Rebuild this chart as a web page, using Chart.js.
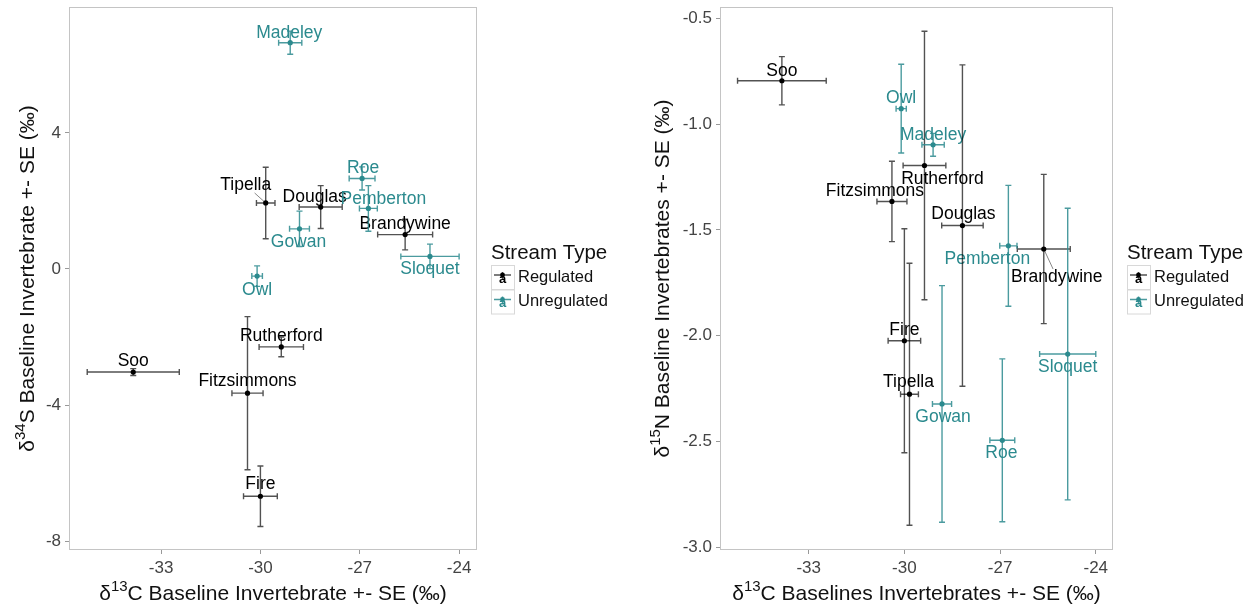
<!DOCTYPE html>
<html>
<head>
<meta charset="utf-8">
<script src="https://cdn.jsdelivr.net/npm/chart.js@4.4.1/dist/chart.umd.min.js"></script>
<style>
  html, body { margin: 0; padding: 0; background: #fff; }
  #wrap { position: relative; width: 1255px; height: 609px; }
  #left { position: absolute; left: 0; top: 0; }
  #right { position: absolute; left: 630px; top: 0; }
</style>
</head>
<body>
<div id="wrap">
  <canvas id="left" width="630" height="609"></canvas>
  <canvas id="right" width="625" height="609"></canvas>
</div>
<script>
// stream sites and their isotope means / standard errors
const sites = ['Soo', 'Owl', 'Madeley', 'Rutherford', 'Fitzsimmons', 'Douglas', 'Pemberton',
  'Brandywine', 'Sloquet', 'Fire', 'Tipella', 'Gowan', 'Roe'];
const streamType = ['Regulated', 'Unregulated', 'Unregulated', 'Regulated', 'Regulated', 'Regulated', 'Unregulated',
  'Regulated', 'Unregulated', 'Regulated', 'Regulated', 'Unregulated', 'Unregulated'];
const d13C    = [-33.84, -30.10, -29.10, -29.37, -30.39, -28.18, -26.74, -25.63, -24.88, -30.00, -29.84, -28.82, -26.93];
const d13C_se = [1.39, 0.16, 0.35, 0.67, 0.47, 0.65, 0.27, 0.83, 0.88, 0.51, 0.28, 0.30, 0.39];
const d34S    = [-3.03, -0.21, 6.65, -2.29, -3.65, 1.82, 1.78, 1.01, 0.37, -6.68, 1.94, 1.18, 2.66];
const d34S_se = [0.10, 0.30, 0.34, 0.29, 2.25, 0.63, 0.67, 0.45, 0.36, 0.89, 1.05, 0.52, 0.34];
const d15N    = [-0.794, -0.926, -1.097, -1.195, -1.365, -1.479, -1.575, -1.590, -2.087, -2.024, -2.277, -2.323, -2.495];
const d15N_se = [0.114, 0.210, 0.054, 0.635, 0.190, 0.760, 0.286, 0.353, 0.690, 0.530, 0.620, 0.560, 0.385];

const xTicks = [-33, -30, -27, -24];
const sTicks = [-8, -4, 0, 4];
const nTicks = [-3.0, -2.5, -2.0, -1.5, -1.0, -0.5];

// label offsets in px from each point (repel-style placement), last flag = draw a leader segment
const nudgeS = [[0, -11], [0, 14], [-1, -10], [0, -11], [0, -12], [-6, -10], [15, -9],
  [0, -10], [0, 13], [0, -12], [-20, -18, true], [-1, 13], [1, -10]];
const nudgeN = [[0, -10], [0, -10], [0, -10], [18, 14], [-17, -10], [1, -11], [-21, 13],
  [13, 28, true], [0, 13], [0, -11], [-1, -12], [1, 13], [-1, 13]];

const FONT = '"Liberation Sans", Arial, Helvetica, sans-serif';
const colors = { Regulated: '#000000', Unregulated: '#2b8a8e' };
const barColors = { Regulated: 'rgba(0,0,0,0.68)', Unregulated: 'rgba(43,138,142,0.85)' };

// draws text made of normal and superscript pieces, centred on x
function richText(ctx, parts, x, y, size) {
  const supSize = Math.round(size * 0.7);
  let total = 0;
  parts.forEach(p => {
    ctx.font = (p.sup ? supSize : size) + 'px ' + FONT;
    p.w = ctx.measureText(p.t).width;
    total += p.w;
  });
  let cx = x - total / 2;
  ctx.textAlign = 'left';
  ctx.textBaseline = 'alphabetic';
  parts.forEach(p => {
    ctx.font = (p.sup ? supSize : size) + 'px ' + FONT;
    ctx.fillText(p.t, cx, p.sup ? y - size * 0.42 : y);
    cx += p.w;
  });
}

const isoPlugin = {
  id: 'iso',
  beforeDatasetsDraw(chart) {
    const ctx = chart.ctx;
    const xs = chart.scales.x, ys = chart.scales.y;
    ctx.save();

    // text labels, with a leader segment where the label sits away from its point
    chart.data.datasets.forEach(ds => {
      ds.data.forEach(p => {
        const px = xs.getPixelForValue(p.x), py = ys.getPixelForValue(p.y);
        const lx = px + p.nudge[0], ly = py + p.nudge[1];
        ctx.font = '17.5px ' + FONT;
        const w = ctx.measureText(p.name).width;
        if (p.nudge[2]) {
          const dx = px - lx, dy = py - ly;
          const t = Math.min(w / 2 / Math.abs(dx || 1e-6), 8 / Math.abs(dy || 1e-6));
          ctx.strokeStyle = '#888';
          ctx.lineWidth = 1;
          ctx.beginPath();
          ctx.moveTo(lx + dx * t, ly + dy * t);
          ctx.lineTo(px, py);
          ctx.stroke();
        }
        ctx.fillStyle = colors[ds.label];
        ctx.textAlign = 'center';
        ctx.textBaseline = 'middle';
        ctx.fillText(p.name, lx, ly);
      });
    });

    // horizontal and vertical error bars with small caps
    const cap = 3;
    chart.data.datasets.forEach(ds => {
      ctx.strokeStyle = barColors[ds.label];
      ctx.lineWidth = 1.4;
      ds.data.forEach(p => {
        const px = xs.getPixelForValue(p.x), py = ys.getPixelForValue(p.y);
        const x0 = xs.getPixelForValue(p.x - p.xErr), x1 = xs.getPixelForValue(p.x + p.xErr);
        const y0 = ys.getPixelForValue(p.y - p.yErr), y1 = ys.getPixelForValue(p.y + p.yErr);
        ctx.beginPath();
        ctx.moveTo(x0, py); ctx.lineTo(x1, py);
        ctx.moveTo(x0, py - cap); ctx.lineTo(x0, py + cap);
        ctx.moveTo(x1, py - cap); ctx.lineTo(x1, py + cap);
        ctx.moveTo(px, y0); ctx.lineTo(px, y1);
        ctx.moveTo(px - cap, y0); ctx.lineTo(px + cap, y0);
        ctx.moveTo(px - cap, y1); ctx.lineTo(px + cap, y1);
        ctx.stroke();
      });
    });
    ctx.restore();
  },
  afterDraw(chart) {
    const ctx = chart.ctx;
    const a = chart.chartArea;
    const o = chart.options.plugins.iso;
    ctx.save();

    // panel frame
    ctx.strokeStyle = '#c4c4c4';
    ctx.lineWidth = 1;
    ctx.strokeRect(a.left + 0.5, a.top + 0.5, a.right - a.left - 1, a.bottom - a.top - 1);

    // axis titles
    ctx.fillStyle = '#111';
    richText(ctx, o.xTitle, (a.left + a.right) / 2, 600, 21);
    ctx.save();
    ctx.translate(o.yTitleX, (a.top + a.bottom) / 2);
    ctx.rotate(-Math.PI / 2);
    richText(ctx, o.yTitle, 0, 7, 21);
    ctx.restore();

    // legend
    const lx = o.legendX;
    ctx.fillStyle = '#111';
    ctx.font = '20.5px ' + FONT;
    ctx.textAlign = 'left';
    ctx.textBaseline = 'middle';
    ctx.fillText('Stream Type', lx, 253);
    ['Regulated', 'Unregulated'].forEach((t, k) => {
      const by = 265 + k * 24.5;
      ctx.strokeStyle = '#d8d8d8';
      ctx.lineWidth = 1;
      ctx.strokeRect(lx + 0.5, by + 0.5, 23, 24);
      const cy = by + 12;
      ctx.strokeStyle = barColors[t];
      ctx.lineWidth = 1.4;
      ctx.beginPath();
      ctx.moveTo(lx + 3, cy - 2); ctx.lineTo(lx + 20, cy - 2);
      ctx.moveTo(lx + 11.5, cy - 5); ctx.lineTo(lx + 11.5, cy + 3);
      ctx.stroke();
      ctx.fillStyle = colors[t];
      ctx.beginPath();
      ctx.arc(lx + 11.5, cy - 2, 2.4, 0, Math.PI * 2);
      ctx.fill();
      ctx.font = 'bold 13px ' + FONT;
      ctx.textAlign = 'center';
      ctx.fillText('a', lx + 11.5, cy + 2);
      ctx.fillStyle = '#111';
      ctx.font = '16.5px ' + FONT;
      ctx.textAlign = 'left';
      ctx.fillText(t, lx + 27, cy);
    });
    ctx.restore();
  }
};

function makeAxis(min, max, tickVals, fmt, fitFn) {
  return {
    type: 'linear', min: min, max: max,
    afterBuildTicks: s => { s.ticks = tickVals.map(v => ({ value: v })); },
    afterFit: s => {
      fitFn(s);
      // keep tick labels from pushing the plot area inwards
      s.paddingTop = 0; s.paddingBottom = 0; s.paddingLeft = 0; s.paddingRight = 0;
    },
    ticks: { autoSkip: false, font: { family: FONT, size: 17 }, color: '#444', padding: 4, callback: fmt },
    grid: { drawOnChartArea: false, drawTicks: true, tickLength: 4, color: '#999', lineWidth: 1 },
    border: { display: false }
  };
}

function buildChart(id, yVals, yErr, nudge, opts) {
  const datasets = ['Regulated', 'Unregulated'].map(type => ({
    label: type,
    data: sites.map((s, i) => ({ x: d13C[i], y: yVals[i], xErr: d13C_se[i], yErr: yErr[i], name: s, nudge: nudge[i], type: streamType[i] }))
      .filter(p => p.type === type),
    backgroundColor: colors[type],
    borderColor: colors[type],
    borderWidth: 0,
    pointRadius: 2.6,
    pointHoverRadius: 2.6
  }));
  return new Chart(document.getElementById(id), {
    type: 'scatter',
    data: { datasets },
    plugins: [isoPlugin],
    options: {
      responsive: false,
      animation: false,
      events: [],
      layout: { padding: { left: 0, top: 7, right: opts.padRight, bottom: 0 } },
      scales: {
        x: makeAxis(-35.78, -23.46, xTicks, v => String(v), s => { s.height = 59; }),
        y: makeAxis(opts.yMin, opts.yMax, opts.yTicks, opts.yFmt, s => { s.width = opts.yWidth; })
      },
      plugins: {
        legend: { display: false },
        tooltip: { enabled: false },
        iso: opts.iso
      }
    }
  });
}

buildChart('left', d34S, d34S_se, nudgeS, {
  padRight: 153, yWidth: 69, yMin: -8.26, yMax: 7.70, yTicks: sTicks, yFmt: v => String(v),
  iso: {
    xTitle: [{ t: 'δ' }, { t: '13', sup: true }, { t: 'C Baseline Invertebrate +- SE (‰)' }],
    yTitle: [{ t: 'δ' }, { t: '34', sup: true }, { t: 'S Baseline Invertebrate +- SE (‰)' }],
    yTitleX: 27, legendX: 491
  }
});

buildChart('right', d15N, d15N_se, nudgeN, {
  padRight: 142, yWidth: 90, yMin: -3.014, yMax: -0.445, yTicks: nTicks, yFmt: v => Number(v).toFixed(1),
  iso: {
    xTitle: [{ t: 'δ' }, { t: '13', sup: true }, { t: 'C Baselines Invertebrates +- SE (‰)' }],
    yTitle: [{ t: 'δ' }, { t: '15', sup: true }, { t: 'N Baseline Invertebrates +- SE (‰)' }],
    yTitleX: 32, legendX: 497
  }
});
</script>
</body>
</html>
